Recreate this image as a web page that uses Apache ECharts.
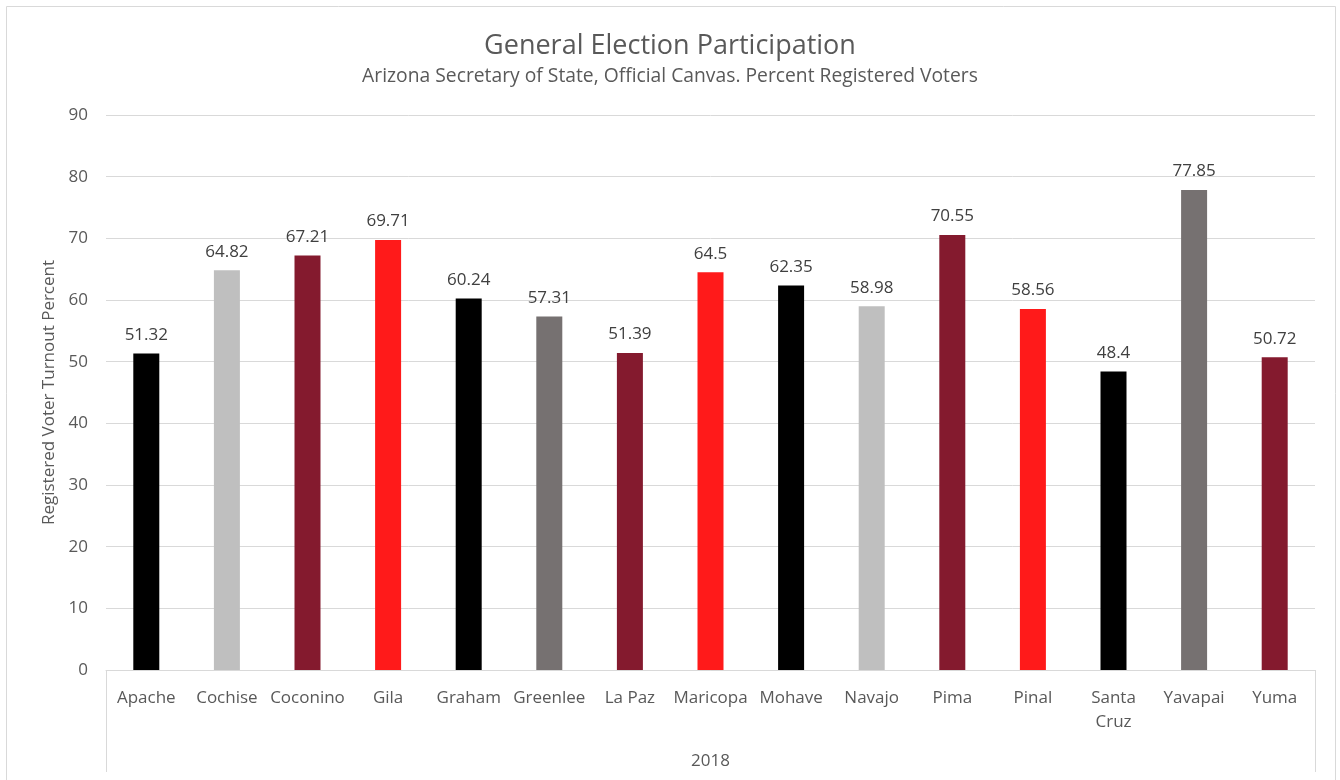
<!DOCTYPE html>
<html><head><meta charset="utf-8">
<script src="https://cdn.jsdelivr.net/npm/echarts@6/dist/echarts.min.js"></script>
<style>html,body{margin:0;padding:0;background:#fff}#c{width:1340px;height:780px}</style>
</head><body><div id="c"></div>
<script>
const counties = ['Apache','Cochise','Coconino','Gila','Graham','Greenlee','La Paz','Maricopa','Mohave','Navajo','Pima','Pinal','Santa\nCruz','Yavapai','Yuma'];
const turnout = [51.32,64.82,67.21,69.71,60.24,57.31,51.39,64.5,62.35,58.98,70.55,58.56,48.4,77.85,50.72];
const barColors = ['#000000','#BFBFBF','#841A2E','#FF1A1A','#000000','#767171','#841A2E','#FF1A1A','#000000','#BFBFBF','#841A2E','#FF1A1A','#000000','#767171','#841A2E'];
const years = ['2018'];
const yTicks = {min:0,max:90,interval:10};
const FONT = 'Open Sans';
const chart = echarts.init(document.getElementById('c'));
chart.setOption({
  animation:false,
  textStyle:{fontFamily:FONT},
  graphic:[{type:'rect',shape:{x:6.5,y:6.5,width:1329,height:780},style:{fill:'none',stroke:'#D9D9D9',lineWidth:1},silent:true}],
  title:{text:'General Election Participation',subtext:'Arizona Secretary of State, Official Canvas. Percent Registered Voters',left:'center',top:28,
    textStyle:{fontFamily:FONT,fontSize:27,fontWeight:'normal',color:'#595959'},
    subtextStyle:{fontFamily:FONT,fontSize:19.3,color:'#595959'},itemGap:7},
  grid:{left:106,right:25,top:115,bottom:110},
  xAxis:[{type:'category',data:counties,
    axisLine:{lineStyle:{color:'#D9D9D9'}},axisTick:{show:false},
    axisLabel:{color:'#595959',fontSize:17,interval:0,margin:16,lineHeight:24,fontFamily:FONT}},
   {type:'category',data:years,position:'bottom',offset:102,gridIndex:0,
    axisLine:{show:false},axisTick:{show:true,inside:true,length:102,lineStyle:{color:'#D9D9D9'}},
    axisLabel:{color:'#595959',fontSize:17,margin:-19,fontFamily:FONT}}],
  yAxis:{type:'value',min:yTicks.min,max:yTicks.max,interval:yTicks.interval,
    name:'Registered Voter Turnout Percent',nameLocation:'middle',nameGap:48,
    nameTextStyle:{color:'#595959',fontSize:17,fontFamily:FONT},
    axisLine:{show:false},axisTick:{show:false},
    axisLabel:{color:'#595959',fontSize:17,margin:18,fontFamily:FONT},
    splitLine:{lineStyle:{color:'#D9D9D9'}}},
  series:[{type:'bar',xAxisIndex:0,barWidth:26,
    data:turnout.map((v,i)=>({value:v,itemStyle:{color:barColors[i]}})),
    label:{show:true,position:'top',distance:10,color:'#404040',fontSize:17,fontFamily:FONT}}]
});
</script></body></html>
